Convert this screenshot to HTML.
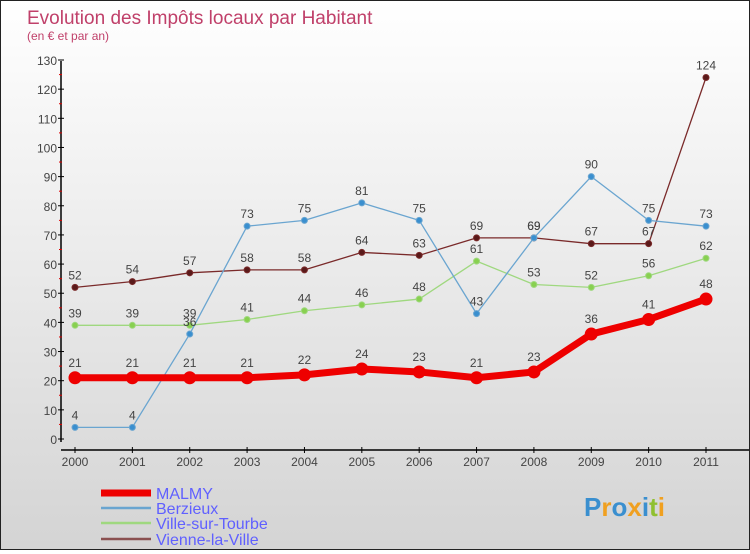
<!DOCTYPE html>
<html><head><meta charset="utf-8"><style>
body{margin:0;width:750px;height:550px;overflow:hidden;font-family:"Liberation Sans",sans-serif}
#wrap{position:relative;width:748px;height:548px;border:1px solid #222;background:linear-gradient(#ffffff,#d4d4d4)}
</style></head><body>
<div id="wrap">
<svg id="chart" width="748" height="548"></svg>
</div>
<script>
const years=["2000","2001","2002","2003","2004","2005","2006","2007","2008","2009","2010","2011"];
const yTicks=[0,10,20,30,40,50,60,70,80,90,100,110,120,130];
const malmy=[21,21,21,21,22,24,23,21,23,36,41,48];
const berzieux=[4,4,36,73,75,81,75,43,69,90,75,73];
const villeSurTourbe=[39,39,39,41,44,46,48,61,53,52,56,62];
const vienneLaVille=[52,54,57,58,58,64,63,69,69,67,67,124];
const seriesNames=["MALMY","Berzieux","Ville-sur-Tourbe","Vienne-la-Ville"];
const NS="http://www.w3.org/2000/svg";
const svg=document.getElementById('chart');
const x=i=>74+i*(631/11);
const y=v=>438-v*(379/130);
function mk(t,a,p){const e=document.createElementNS(NS,t);for(const k in a)e.setAttribute(k,a[k]);(p||svg).appendChild(e);return e;}
function txt(s,a){const e=mk('text',a);e.textContent=s;return e;}
let t=txt("Evolution des Impôts locaux par Habitant",{x:26,y:23,'font-size':19,fill:'#c0406a'});


t=txt("(en € et par an)",{x:26,y:39,'font-size':12,fill:'#c0406a'});


// axes
let ax=mk('line',{x1:60,y1:60,x2:60,y2:441,stroke:'#000','stroke-width':1.5});


ax=mk('line',{x1:60,y1:449,x2:748,y2:449,stroke:'#000','stroke-width':1.5});


yTicks.forEach((v,i)=>{
 mk('line',{x1:57,y1:y(v),x2:63,y2:y(v),stroke:'#000'});
 if(i<yTicks.length-1)mk('line',{x1:58,y1:y(v+5),x2:61,y2:y(v+5),stroke:'#d00'});
 const l=txt(String(v),{x:56,y:y(v)+5,'font-size':12,fill:'#444','text-anchor':'end'});
 
 
});
years.forEach((yr,i)=>{
 mk('line',{x1:x(i),y1:446,x2:x(i),y2:452,stroke:'#000'});
 const l=txt(yr,{x:x(i),y:465,'font-size':12,fill:'#444','text-anchor':'middle'});
 
 
});
function series(data,name,color,dot,w,r){
 const g=mk('g',{});
 
 
 mk('polyline',{points:data.map((v,i)=>x(i)+','+y(v)).join(' '),fill:'none',stroke:color,'stroke-width':w,'stroke-linejoin':'round'},g);
 data.forEach((v,i)=>{
  const c=mk('circle',{cx:x(i),cy:y(v),r:r,fill:dot,stroke:color,'stroke-width':1},g);
  
  
  const l=txt(String(v),{x:x(i),y:y(v)-(r+5),'font-size':12,fill:'#444','text-anchor':'middle'});
  
  
 });
}
series(vienneLaVille,'vienne-la-ville','#7a2a2a','#5a1a1a',1.3,3);
series(villeSurTourbe,'ville-sur-tourbe','#9fd87f','#88d050',1.3,3);
series(berzieux,'berzieux','#6aa5d0','#3a8fcf',1.3,3);
series(malmy,'malmy','#ee0000','#ee0000',7,6);
const lc=['#ee0000','#6aa5d0','#9fd87f','#8a5050'],lw=[7,2.5,2.5,2.5],ly=[492,507,522,538];
seriesNames.forEach((n,i)=>{
 const g=mk('g',{});
 
 
 mk('line',{x1:100,y1:ly[i],x2:150,y2:ly[i],stroke:lc[i],'stroke-width':lw[i]},g);
 const l=mk('text',{x:155,y:ly[i]+6,'font-size':16,fill:'#6060ff'},g);l.textContent=n;
});
const logo=mk('text',{x:583,y:515,'font-size':26,'font-weight':'bold','font-family':'Liberation Sans, sans-serif'});


[['P','#3a8fcf'],['r','#f0a020'],['o','#3a8fcf'],['x','#f0a020'],['i','#3a8fcf'],['t','#90c030'],['i','#f0a020']].forEach(([c,f])=>{const s=mk('tspan',{fill:f},logo);s.textContent=c;});
</script>
</body></html>
